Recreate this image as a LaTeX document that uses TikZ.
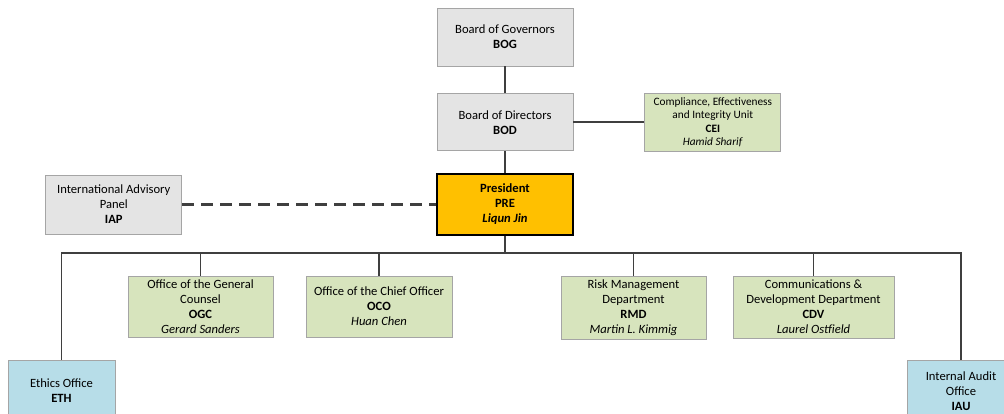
\documentclass[tikz,border=0pt]{standalone}
\usepackage{fontspec}
\setmainfont{Carlito}
\usepackage{xcolor}
\usetikzlibrary{positioning}

\definecolor{boardgray}{HTML}{E4E4E4}
\definecolor{deptgreen}{HTML}{D7E4BD}
\definecolor{officeblue}{HTML}{B7DDE8}
\definecolor{pregold}{HTML}{FFC000}
\definecolor{boxline}{HTML}{A5A5A5}
\definecolor{linegray}{HTML}{3F3F3F}

\begin{document}
\begin{tikzpicture}[
    x=1pt, y=-1pt,
    box/.style={draw=boxline, line width=0.8pt, minimum width=136pt, minimum height=58pt, align=center, inner sep=2pt, font=\fontsize{12.6}{15}\selectfont},
    board/.style={box, fill=boardgray},
    dept/.style={box, fill=deptgreen, minimum width=145pt, minimum height=61pt},
    office/.style={box, fill=officeblue, minimum width=107pt, minimum height=62pt},
    link/.style={draw=linegray, line width=1.8pt}
]
    \useasboundingbox (0,0) rectangle (1004,414);

    % top of the chart
    \node[board] (bog) at (505,37) {Board of Governors\\\textbf{BOG}};
    \node[board, below=27pt of bog, minimum height=57pt] (bod) {Board of Directors\\\textbf{BOD}};
    \node[box, fill=pregold, draw=black, line width=1.6pt, below=22pt of bod, minimum height=61pt] (pre) {\textbf{President}\\\textbf{PRE}\\\textbf{\textit{Liqun Jin}}};
    \node[box, fill=deptgreen, right=71pt of bod, font=\fontsize{11.3}{13.5}\selectfont] (cei) {Compliance, Effectiveness\\and Integrity Unit\\\textbf{CEI}\\\textit{Hamid Sharif}};
    \node[board, left=254pt of pre, minimum height=59pt] (iap) {International Advisory\\Panel\\\textbf{IAP}};

    % departments and offices
    \node[dept] (ogc) at (200.5,306.5) {Office of the General\\Counsel\\\textbf{OGC}\\\textit{Gerard Sanders}};
    \node[dept, minimum width=146pt] (oco) at (379,306.5) {Office of the Chief Officer\\\textbf{OCO}\\\textit{Huan Chen}};
    \node[dept, minimum height=63pt] (rmd) at (633.5,307.5) {Risk Management\\Department\\\textbf{RMD}\\\textit{Martin L. Kimmig}};
    \node[dept, minimum width=161pt, minimum height=62pt] (cdv) at (813.5,307) {Communications \&\\Development Department\\\textbf{CDV}\\\textit{Laurel Ostfield}};
    \node[office] (eth) at (61.5,391) {Ethics Office\\\textbf{ETH}};
    \node[office, minimum width=108pt] (iau) at (961,391) {Internal Audit\\Office\\\textbf{IAU}};

    % connectors
    \coordinate (bus) at (505,253);
    \draw[link] (bog) -- (bod);
    \draw[link] (bod) -- (pre);
    \draw[link] (bod) -- (cei);
    \draw[link, line width=2.4pt, dash pattern=on 12pt off 7pt] (iap) -- (pre);
    \draw[link] (pre) -- (bus);
    \draw[link] (eth.north) |- (bus) -| (iau.north);
    \foreach \d in {ogc, oco, rmd, cdv}
        \draw[link] (\d.north) -- (\d.north |- bus);
\end{tikzpicture}
\end{document}
